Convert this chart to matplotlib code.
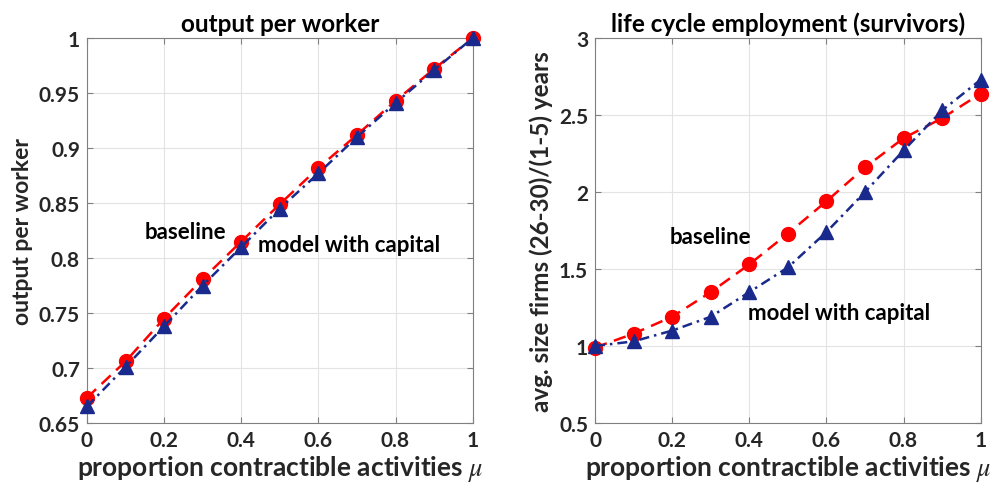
"""Output per worker and life cycle employment vs contractible share."""
import matplotlib
matplotlib.use("Agg")
import matplotlib.pyplot as plt

mu = [0.0, 0.1, 0.2, 0.3, 0.4, 0.5, 0.6, 0.7, 0.8, 0.9, 1.0]

opw_baseline = [0.673, 0.706, 0.745, 0.781, 0.815, 0.849, 0.882, 0.912, 0.943, 0.972, 1.0]
opw_capital = [0.665, 0.701, 0.738, 0.775, 0.810, 0.845, 0.877, 0.910, 0.941, 0.971, 1.0]

emp_baseline = [0.99, 1.08, 1.19, 1.35, 1.53, 1.73, 1.94, 2.16, 2.35, 2.48, 2.64]
emp_capital = [1.0, 1.03, 1.10, 1.19, 1.35, 1.51, 1.74, 2.00, 2.27, 2.53, 2.73]

RED = "#ff0000"
BLUE = "#1a2a8c"
DARK = "#262626"

plt.rcParams["font.family"] = ["Lato", "DejaVu Sans"]
plt.rcParams["mathtext.fontset"] = "stix"

fig = plt.figure(figsize=(9.94, 4.89), dpi=100)
ax1 = fig.add_axes([0.0875, 0.133, 0.388, 0.787])
ax2 = fig.add_axes([0.5986, 0.133, 0.388, 0.787])


def style(ax):
    ax.set_xlim(0, 1)
    ax.set_xticks([0, 0.2, 0.4, 0.6, 0.8, 1])
    ax.set_xticklabels(["0", "0.2", "0.4", "0.6", "0.8", "1"])
    ax.grid(True, color="#e3e3e3", linewidth=0.8)
    ax.set_axisbelow(True)
    for s in ax.spines.values():
        s.set_color("#808080")
        s.set_linewidth(0.8)
    ax.tick_params(direction="in", top=True, right=True, length=4,
                   color="#808080", labelsize=15, labelcolor=DARK, pad=5)
    for lab in ax.get_xticklabels() + ax.get_yticklabels():
        lab.set_fontweight("bold")
    ax.set_xlabel(r"proportion contractible activities $\mathit{\mu}$", fontsize=19,
                  fontweight="bold", color=DARK, labelpad=2)


def draw(ax, base, cap):
    ax.plot(mu, base, color=RED, linestyle=(0, (5, 3)), linewidth=1.8,
            marker="o", markersize=10, markerfacecolor=RED, markeredgecolor=RED,
            clip_on=False, zorder=3)
    ax.plot(mu, cap, color=BLUE, linestyle=(0, (4, 2, 1, 2)), linewidth=1.8,
            marker="^", markersize=10, markerfacecolor=BLUE, markeredgecolor=BLUE,
            clip_on=False, zorder=4)


draw(ax1, opw_baseline, opw_capital)
ax1.set_ylim(0.65, 1)
ax1.set_yticks([0.65, 0.7, 0.75, 0.8, 0.85, 0.9, 0.95, 1])
ax1.set_yticklabels(["0.65", "0.7", "0.75", "0.8", "0.85", "0.9", "0.95", "1"])
style(ax1)
ax1.set_ylabel("output per worker", fontsize=16.5, fontweight="bold", color=DARK)
ax1.set_title("output per worker", fontsize=17.5, fontweight="bold", color="black", pad=5)
ax1.text(0.15, 0.8245, "baseline", fontsize=16, fontweight="bold", va="center", ha="left")
ax1.text(0.443, 0.812, "model with capital", fontsize=16, fontweight="bold",
         va="center", ha="left")

draw(ax2, emp_baseline, emp_capital)
ax2.set_ylim(0.5, 3)
ax2.set_yticks([0.5, 1, 1.5, 2, 2.5, 3])
ax2.set_yticklabels(["0.5", "1", "1.5", "2", "2.5", "3"])
style(ax2)
ax2.set_ylabel("avg. size firms (26-30)/(1-5) years", fontsize=17.5, fontweight="bold",
               color=DARK)
ax2.set_title("life cycle employment (survivors)", fontsize=17.5, fontweight="bold",
              color="black", pad=5)
ax2.text(0.194, 1.71, "baseline", fontsize=16, fontweight="bold", va="center", ha="left")
ax2.text(0.396, 1.22, "model with capital", fontsize=16, fontweight="bold",
         va="center", ha="left")

fig.savefig("out.png", dpi=100)
plt.close(fig)
